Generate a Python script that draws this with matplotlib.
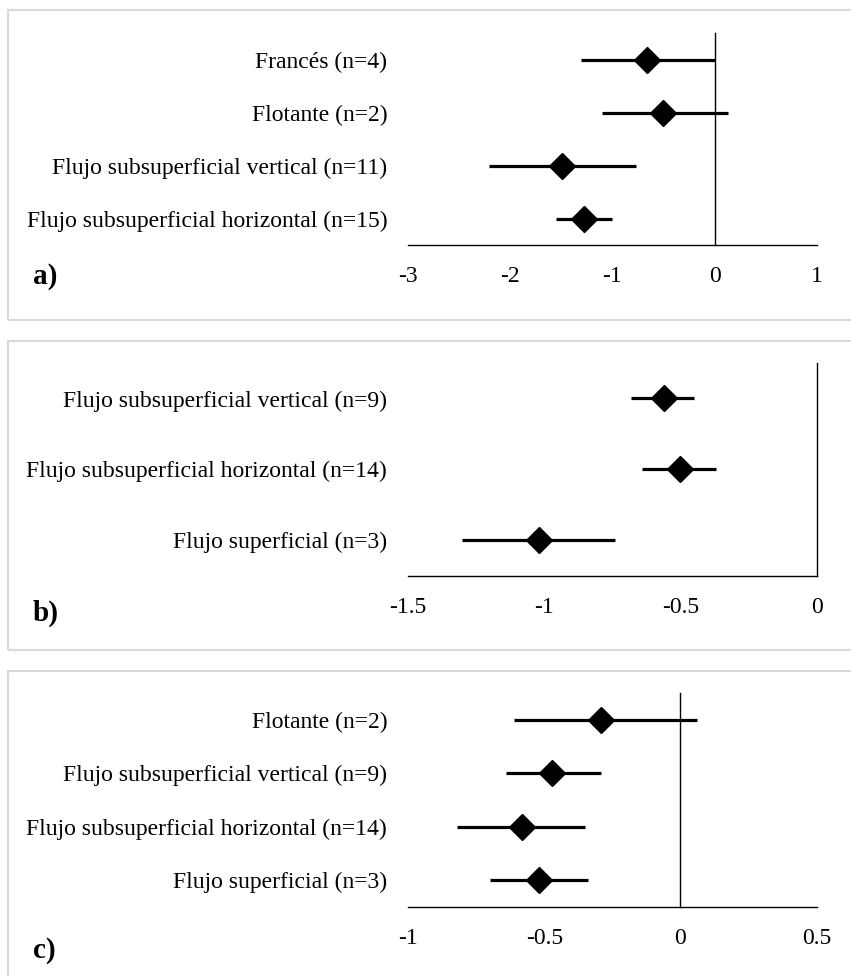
import matplotlib.pyplot as plt
from matplotlib.patches import Rectangle

plt.rcParams['font.family'] = ['Liberation Serif', 'DejaVu Serif']

# Panel a
labels_a = ['Francés (n=4)', 'Flotante (n=2)',
            'Flujo subsuperficial vertical (n=11)',
            'Flujo subsuperficial horizontal (n=15)']
mean_a = [-0.66, -0.50, -1.49, -1.28]
low_a = [-1.31, -1.10, -2.21, -1.55]
high_a = [0.00, 0.13, -0.77, -1.00]
ticks_a = [-3, -2, -1, 0, 1]

# Panel b
labels_b = ['Flujo subsuperficial vertical (n=9)',
            'Flujo subsuperficial horizontal (n=14)',
            'Flujo superficial (n=3)']
mean_b = [-0.56, -0.50, -1.02]
low_b = [-0.68, -0.64, -1.30]
high_b = [-0.45, -0.37, -0.74]
ticks_b = [-1.5, -1, -0.5, 0]

# Panel c
labels_c = ['Flotante (n=2)', 'Flujo subsuperficial vertical (n=9)',
            'Flujo subsuperficial horizontal (n=14)',
            'Flujo superficial (n=3)']
mean_c = [-0.29, -0.47, -0.58, -0.52]
low_c = [-0.61, -0.64, -0.82, -0.70]
high_c = [0.06, -0.29, -0.35, -0.34]
ticks_c = [-1, -0.5, 0, 0.5]

W, H = 851, 976
fig = plt.figure(figsize=(W / 100, H / 100), dpi=100)

# light grey frames around each panel (pixel coords -> figure fraction)
for top, bottom in [(10.5, 320), (340.5, 650), (671, 990)]:
    fig.patches.append(Rectangle((8 / W, 1 - bottom / H), 1.0, (bottom - top) / H,
                                 transform=fig.transFigure, fill=False,
                                 edgecolor='#d9d9d9', lw=1.5, zorder=0))


def forest(rect, labels, mean, low, high, ticks, tag, tag_y):
    ax = fig.add_axes(rect)
    n = len(labels)
    ypos = list(range(n - 1, -1, -1))
    for y, m, lo, hi in zip(ypos, mean, low, high):
        ax.plot([lo, hi], [y, y], color='black', lw=2.3, solid_capstyle='butt', zorder=2)
        ax.plot(m, y, marker='D', color='black', ms=13, zorder=3)
    ax.axvline(0, color='black', lw=1.0, zorder=1, clip_on=False)
    ax.set_xlim(ticks[0], ticks[-1])
    ax.set_ylim(-0.5, n - 0.5)
    ax.set_yticks(ypos)
    ax.set_yticklabels(labels)
    ax.set_xticks(ticks)
    ax.set_xticklabels([f'{t:g}' for t in ticks])
    ax.tick_params(axis='both', length=0, labelsize=17)
    ax.tick_params(axis='y', pad=15)
    ax.tick_params(axis='x', pad=15)
    for s in ['top', 'right', 'left']:
        ax.spines[s].set_visible(False)
    ax.spines['bottom'].set_linewidth(1.0)
    ax.patch.set_alpha(0)
    fig.text(33 / W, 1 - tag_y / H, tag, fontsize=21, fontweight='bold',
             va='center', ha='left')
    return ax


forest([408 / W, 1 - 245 / H, 408.7 / W, 212 / H],
       labels_a, mean_a, low_a, high_a, ticks_a, 'a)', 277)
forest([408 / W, 1 - 575.7 / H, 408.7 / W, 212.7 / H],
       labels_b, mean_b, low_b, high_b, ticks_b, 'b)', 613)
forest([408 / W, 1 - 906.7 / H, 408.7 / W, 213.4 / H],
       labels_c, mean_c, low_c, high_c, ticks_c, 'c)', 950)

fig.savefig('out.png', dpi=100)
